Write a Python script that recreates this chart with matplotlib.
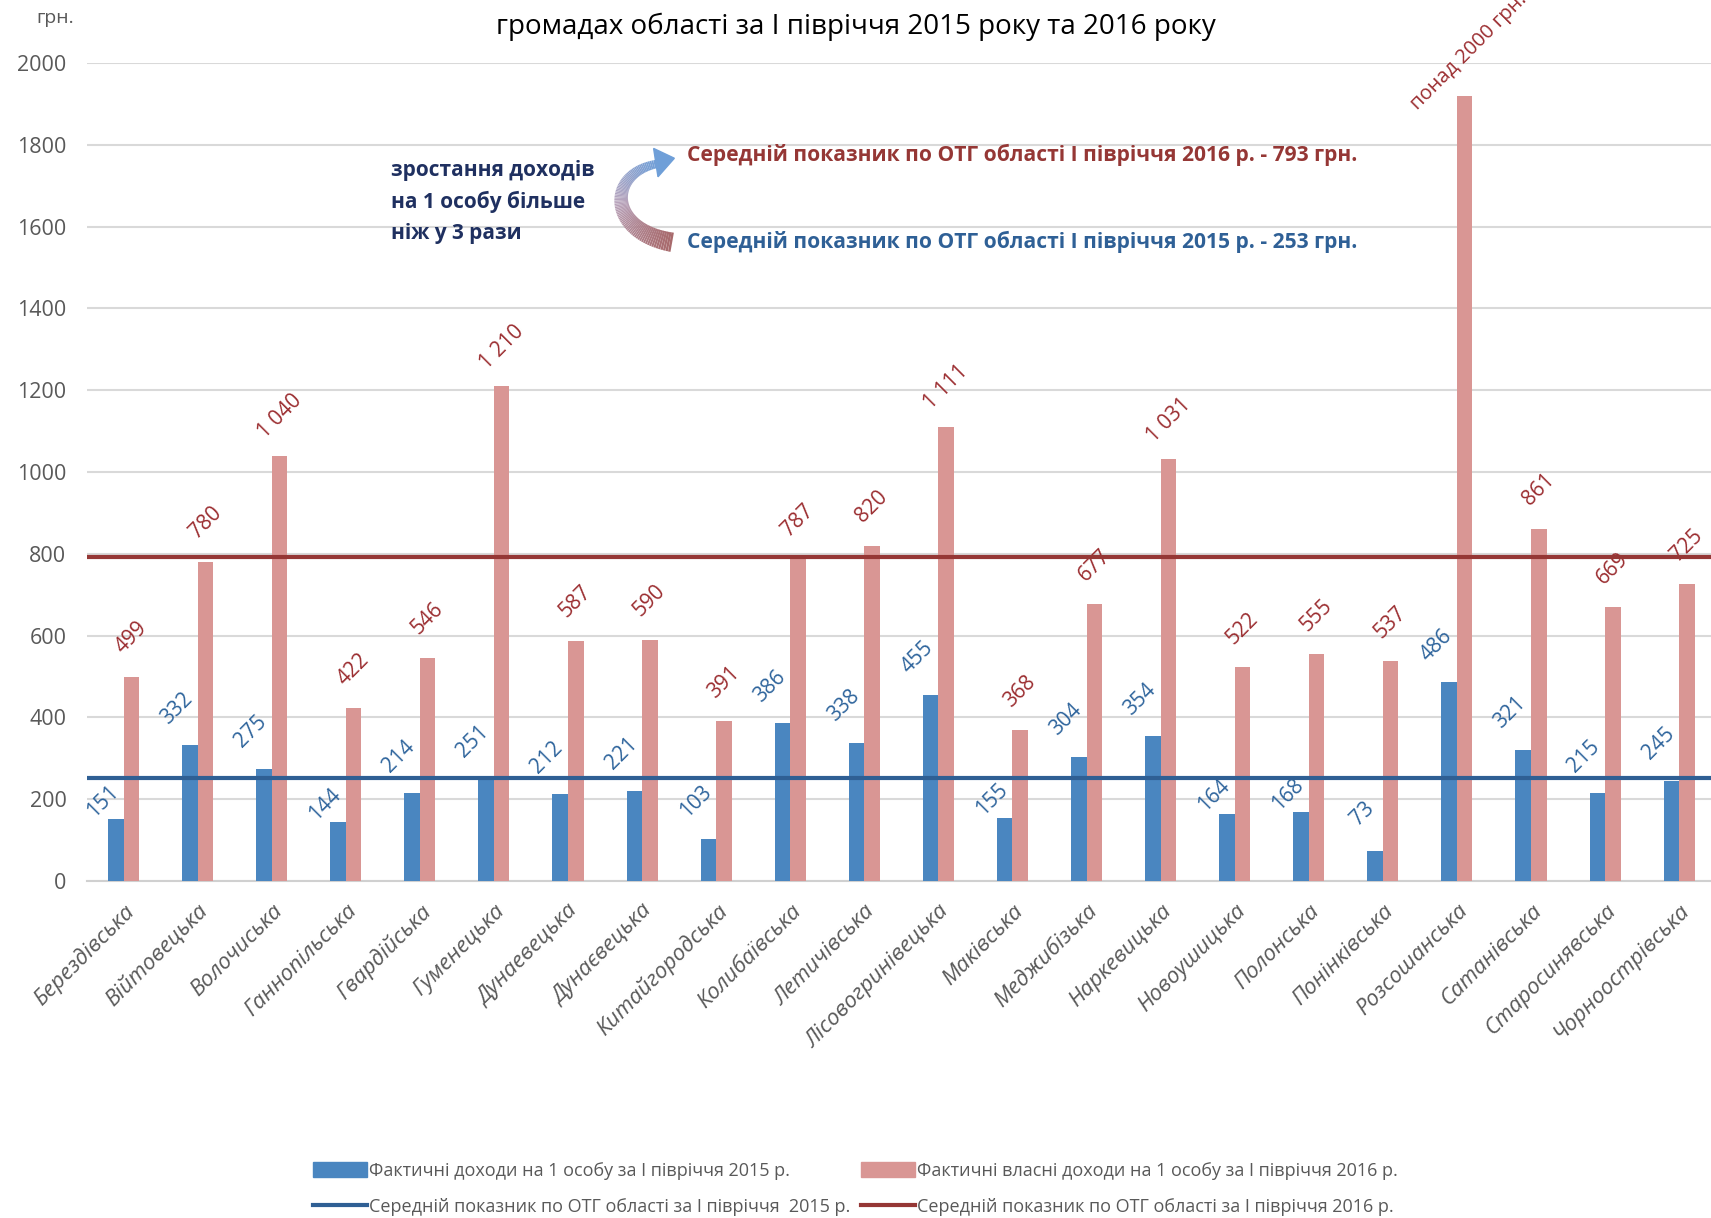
import matplotlib
matplotlib.use("Agg")
import matplotlib.pyplot as plt
import numpy as np
from matplotlib.collections import LineCollection
from matplotlib.patches import Polygon, Patch
from matplotlib.lines import Line2D
import matplotlib.colors as mcolors

plt.rcParams['font.family'] = ['Open Sans', 'DejaVu Sans']

# data
hromady = ['Берездівська', 'Війтовецька', 'Волочиська', 'Ганнопільська', 'Гвардійська',
           'Гуменецька', 'Дунаевецька', 'Дунаєвецька', 'Китайгородська', 'Колибаївська',
           'Летичівська', 'Лісовогринівецька', 'Маківська', 'Меджибізька', 'Наркевицька',
           'Новоушицька', 'Полонська', 'Понінківська', 'Розсошанська', 'Сатанівська',
           'Старосинявська', 'Чорноострівська']
dohody_2015 = [151, 332, 275, 144, 214, 251, 212, 221, 103, 386, 338, 455, 155, 304, 354,
               164, 168, 73, 486, 321, 215, 245]
dohody_2016 = [499, 780, 1040, 422, 546, 1210, 587, 590, 391, 787, 820, 1111, 368, 677, 1031,
               522, 555, 537, 1920, 861, 669, 725]
labels_2016 = ['499', '780', '1 040', '422', '546', '1 210', '587', '590', '391', '787', '820',
               '1 111', '368', '677', '1 031', '522', '555', '537', 'понад 2000 грн.', '861',
               '669', '725']
avg_2015 = 253
avg_2016 = 793

c_blue = '#4a86c0'
c_pink = '#d99694'
c_line15 = '#2f5f94'
c_line16 = '#953735'
c_lab15 = '#2e649c'
c_lab16 = '#9b2d30'
c_grey = '#595959'

fig = plt.figure(figsize=(17.11, 12.18), dpi=100)
ax = fig.add_axes([0.051, 0.2767, 0.949, 0.6716])

x = np.arange(len(hromady))
w = 0.21
b1 = ax.bar(x - w / 2, dohody_2015, w, color=c_blue, zorder=3)
b2 = ax.bar(x + w / 2, dohody_2016, w, color=c_pink, zorder=3)
ax.axhline(avg_2015, color=c_line15, lw=3, zorder=4)
ax.axhline(avg_2016, color=c_line16, lw=3, zorder=4)

for xi, v in zip(x, dohody_2015):
    # labels that would sit on the average line are pulled down closer to the bar
    dy = 18 if abs(v + 90 - avg_2015) < 40 else 37
    ax.annotate(str(v), (xi - w / 2, v), xytext=(-13, dy), textcoords='offset pixels',
                rotation=45, ha='center', va='center', color=c_lab15, fontsize=15,
                annotation_clip=False)
for xi, v, lab in zip(x, dohody_2016, labels_2016):
    if lab.startswith('понад'):
        ax.annotate(lab, (xi + w / 2, v), xytext=(-44, -18), textcoords='offset pixels',
                    rotation=45, ha='left', va='bottom', rotation_mode='anchor',
                    color=c_lab16, fontsize=14.5, annotation_clip=False)
    else:
        ax.annotate(lab, (xi + w / 2, v), xytext=(0, 39), textcoords='offset pixels',
                    rotation=45, ha='center', va='center', color=c_lab16, fontsize=15,
                    annotation_clip=False)

ax.set_xlim(-0.49, 21.43)
ax.set_ylim(0, 2000)
ax.set_yticks(np.arange(0, 2001, 200))
ax.yaxis.grid(True, color='#d9d9d9', lw=1.5, zorder=0)
ax.set_axisbelow(True)
for s in ['top', 'right', 'left']:
    ax.spines[s].set_visible(False)
ax.spines['bottom'].set_color('#d0d0d0')
ax.spines['bottom'].set_linewidth(1.5)
ax.tick_params(axis='both', length=0, colors=c_grey, labelsize=15.5)
ax.tick_params(axis='y', pad=15)
ax.set_xticks(x)
ax.set_xticklabels(hromady, rotation=45, ha='right', rotation_mode='anchor',
                   fontsize=16, style='italic', color=c_grey)
ax.tick_params(axis='x', pad=14)

# title (first line is cut off in the source)
fig.text(0.5, 0.978, 'громадах області за І півріччя 2015 року та 2016 року',
         ha='center', va='center', fontsize=20, color='black')
fig.text(0.032, 0.985, 'грн.', ha='center', va='center', fontsize=14, color=c_grey)

# annotations
fig.text(0.2283, 0.869, 'зростання доходів\nна 1 особу більше\nніж у 3 рази',
         ha='left', va='top', fontsize=15, fontweight='bold', color='#1f3060',
         linespacing=1.6)
fig.text(0.4018, 0.8728, 'Середній показник по ОТГ області І півріччя 2016 р. - 793 грн.',
         ha='left', va='center', fontsize=15.1, fontweight='bold', color=c_line16)
fig.text(0.4018, 0.8011, 'Середній показник по ОТГ області І півріччя 2015 р. - 253 грн.',
         ha='left', va='center', fontsize=15.1, fontweight='bold', color='#2f6096')

# curved gradient arrow (figure pixel coords of the shrunk reference -> fraction)
def fp(px, py):
    return (px / 1568.0, 1 - py / 1116.0)

t = np.linspace(0, 1, 80)
P0, P1, P2, P3 = [np.array(fp(*p)) for p in [(616, 222), (556, 212), (556, 158), (603, 150)]]
pts = ((1 - t)[:, None] ** 3 * P0 + 3 * ((1 - t) ** 2 * t)[:, None] * P1
       + 3 * ((1 - t) * t ** 2)[:, None] * P2 + (t ** 3)[:, None] * P3)
segs = np.stack([pts[:-1], pts[1:]], axis=1)
cmap = mcolors.LinearSegmentedColormap.from_list('g', ['#a86a6c', '#b8a4bc', '#6f9fd8'])
lc = LineCollection(segs, colors=cmap(t[:-1]), linewidths=np.linspace(14, 6, 79),
                    transform=fig.transFigure, capstyle='butt')
fig.add_artist(lc)
head = Polygon([fp(618, 145), fp(599, 136), fp(603, 162)], closed=True,
               transform=fig.transFigure, color='#6f9fd8')
fig.add_artist(head)

# legend
handles = [Patch(color=c_blue), Line2D([], [], color=c_line15, lw=3),
           Patch(color=c_pink), Line2D([], [], color=c_line16, lw=3)]
names = ['Фактичні доходи на 1 особу за І півріччя 2015 р.',
         'Середній показник по ОТГ області за І півріччя  2015 р.',
         'Фактичні власні доходи на 1 особу за І півріччя 2016 р.',
         'Середній показник по ОТГ області за І півріччя 2016 р.']
fig.legend(handles, names, loc='center', bbox_to_anchor=(0.5, 0.024), ncol=2,
           frameon=False, fontsize=13, labelcolor=c_grey, handlelength=3.0,
           handleheight=0.9, handletextpad=0.1, columnspacing=0.6, labelspacing=1.0)

fig.savefig('out.png', dpi=100)
